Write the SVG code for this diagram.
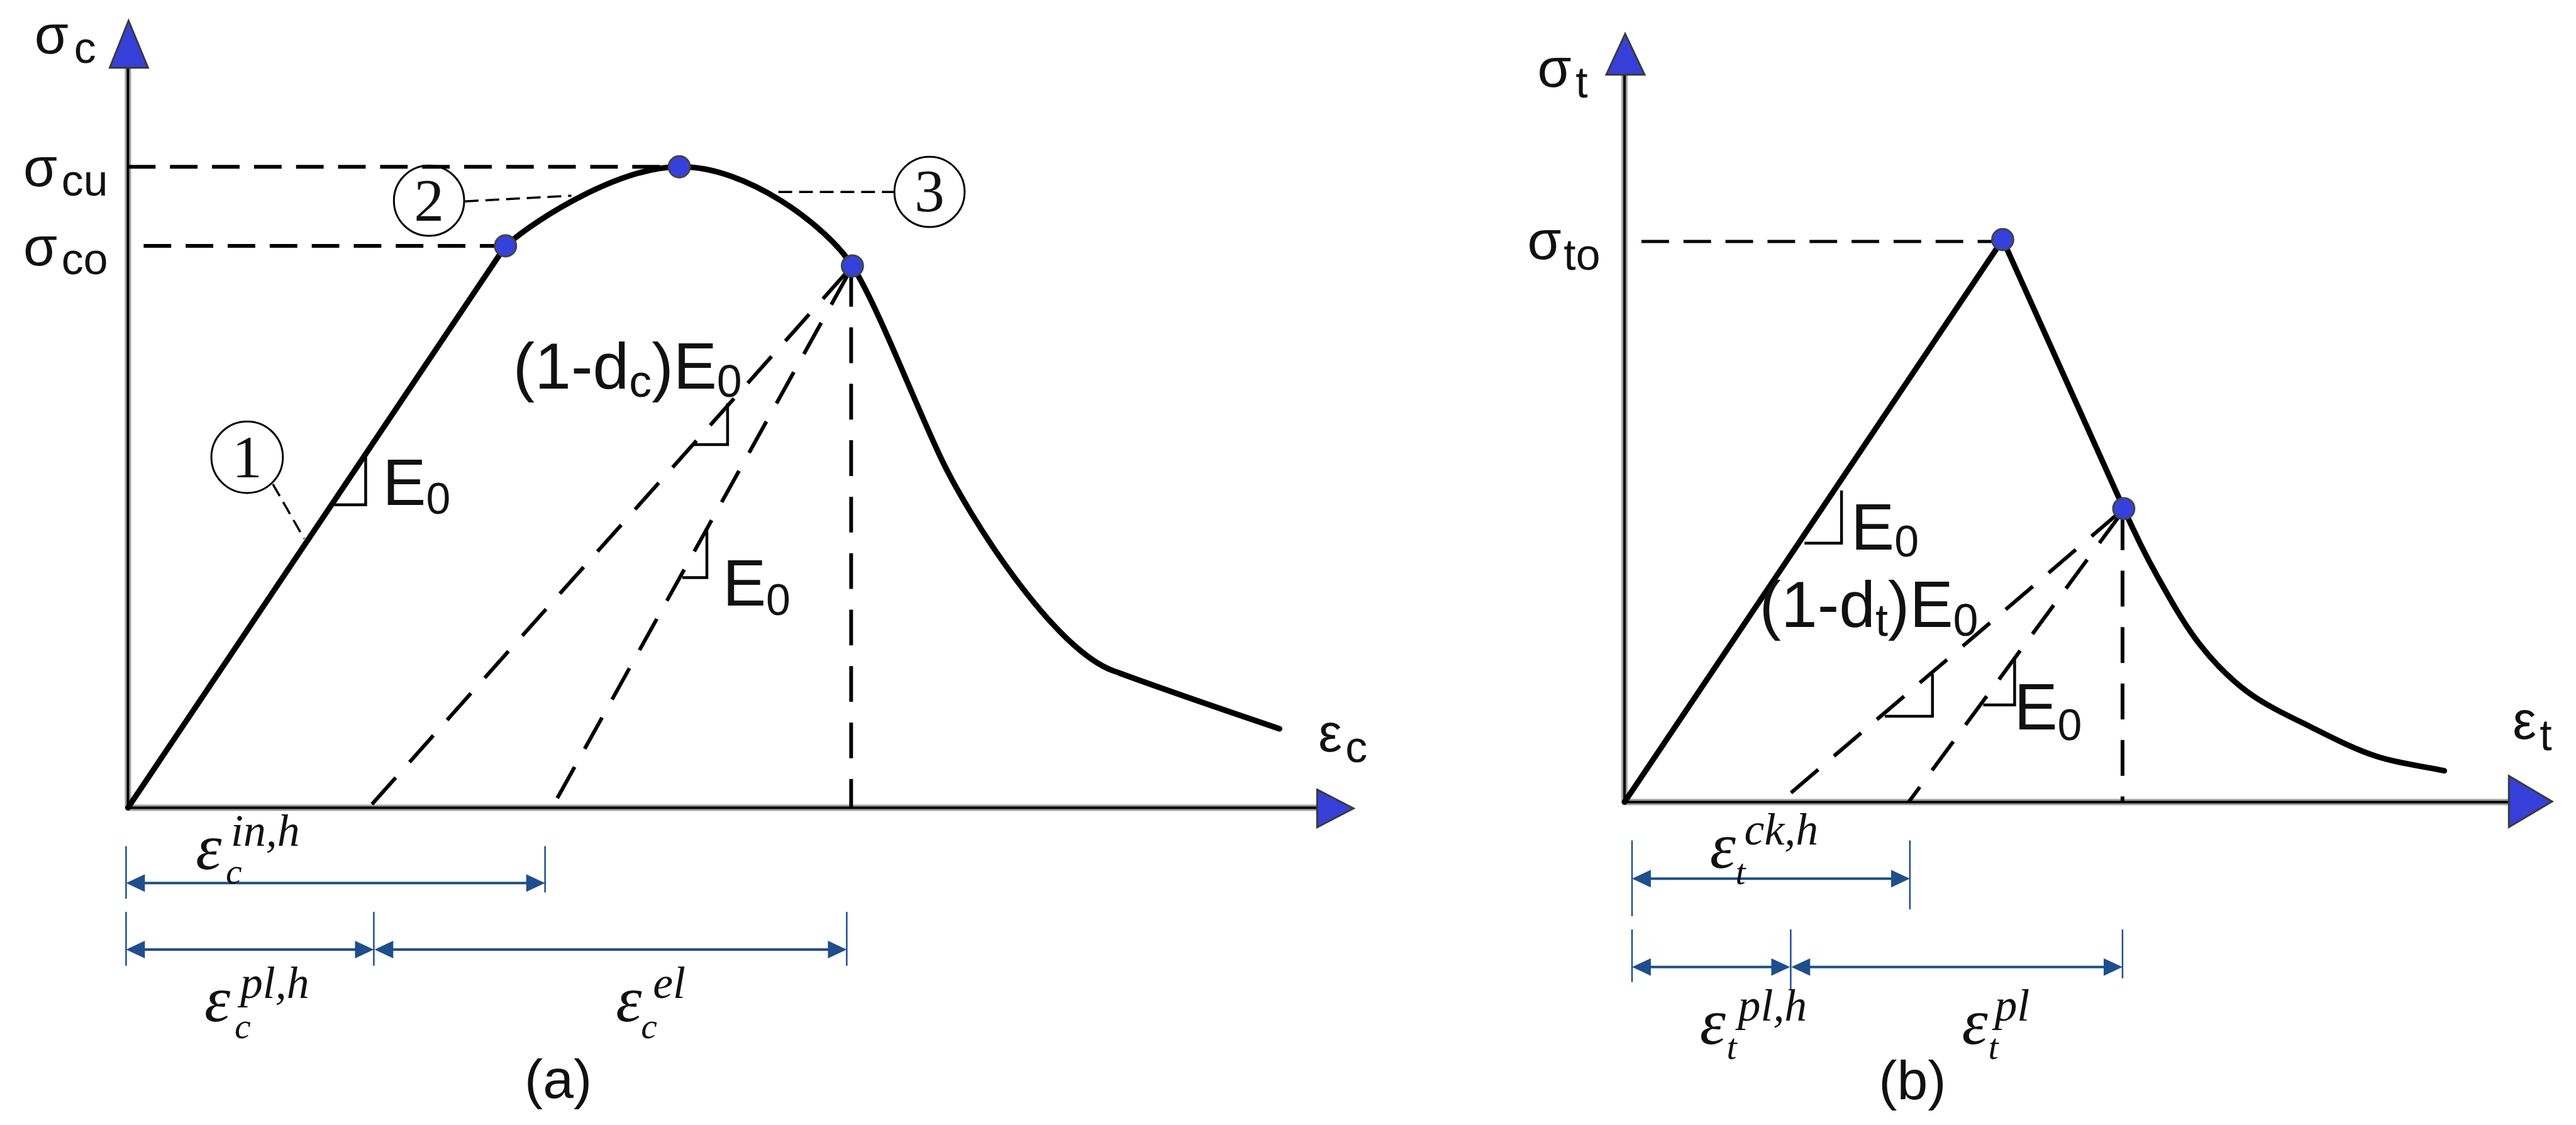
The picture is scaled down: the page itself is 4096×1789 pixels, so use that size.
<svg xmlns="http://www.w3.org/2000/svg" width="4096" height="1789" viewBox="0 0 4096 1789">
<style>
.axh{stroke:#a0a0a0;stroke-width:10;fill:none}
.ax{stroke:#000;stroke-width:4;fill:none}
.tri{fill:#3640d8;stroke:#3a3a3a;stroke-width:3;stroke-linejoin:miter}
.crv{stroke:#000;stroke-width:9;fill:none;stroke-linejoin:round;stroke-linecap:round}
.dh{stroke:#000;stroke-width:6;fill:none;stroke-dasharray:44 23}
.dd{stroke:#000;stroke-width:6;fill:none;stroke-dasharray:57 33}
.lead{stroke:#000;stroke-width:3.5;fill:none;stroke-dasharray:22 11}
.pt{fill:#3441dc;stroke:#444;stroke-width:3}
.ra{stroke:#000;stroke-width:4.5;fill:none}
.circ{fill:none;stroke:#000;stroke-width:3}
.num{font-family:"Liberation Serif","Times New Roman",serif;font-size:96px;text-anchor:middle;fill:#111}
.sans{font-family:"Liberation Sans",Arial,sans-serif;fill:#111}
.it{font-family:"Liberation Serif","Times New Roman",serif;font-style:italic;fill:#111}
.dim{stroke:#1f4e8c;stroke-width:4;fill:none}
.tick{stroke:#1f4e8c;stroke-width:2.5;fill:none}
.ah{fill:#1f4e8c}
</style>
<rect width="4096" height="1789" fill="#fff"/>
<g transform="scale(0.99732)">

<!-- Panel (a) -->
<g id="axes-a">
  <path class="axh" d="M204,1288 V108 M204,1288 H2100"/>
  <path class="ax" d="M204,1288 V108 M204,1288 H2100"/>
  <polygon class="tri" points="205,33 175,108 236,108"/>
  <polygon class="tri" points="2100,1259 2158,1289 2100,1319"/>
</g>
<g id="guides-a">
  <path class="dh" d="M204,266 H1083"/>
  <path class="dh" d="M229,392 H806"/>
  <path class="dd" d="M1357,432 V1288"/>
  <path class="dd" d="M1350,434 L588,1288"/>
  <path class="dd" d="M1353,436 L880,1288"/>
</g>
<g id="connectors">
  <path class="lead" d="M435,772 L485,859"/>
  <path class="lead" d="M741,321 L911,312"/>
  <path class="lead" d="M1241,306 L1426,306"/>
</g>
<g id="curve-a">
  <path class="crv" d="M204,1288 L806,392 C860,345 990,266 1083,266 C1190,264 1319,361 1359,424 C1399,487 1455,635 1500,730 C1545,825 1680,1036 1776,1070 C1836,1092 1960,1135 2040,1162"/>
</g>
<g id="points-a">
  <circle class="pt" cx="806" cy="392" r="17"/>
  <circle class="pt" cx="1083" cy="266" r="17"/>
  <circle class="pt" cx="1359" cy="424" r="17"/>
</g>
<g id="slopes-a">
  <path class="ra" d="M583,729 V805 H530"/>
  <path class="ra" d="M1160,643 V709 H1106"/>
  <path class="ra" d="M1127,844 V921 H1088"/>
</g>
<g id="callout-1">
  <circle class="circ" cx="394" cy="729" r="57"/>
  <text class="num" x="394" y="761">1</text>
</g>
<g id="callout-2">
  <circle class="circ" cx="684" cy="320" r="56"/>
  <text class="num" x="684" y="352">2</text>
</g>
<g id="callout-3">
  <circle class="circ" cx="1482" cy="306" r="56"/>
  <text class="num" x="1482" y="337">3</text>
</g>
<g id="labels-a">
  <text class="sans" x="55" y="85" font-size="88">σ<tspan x="118" y="100" font-size="70">c</tspan></text>
  <text class="sans" x="37" y="297" font-size="88">σ<tspan x="98" y="312" font-size="70">cu</tspan></text>
  <text class="sans" x="37" y="423" font-size="88">σ<tspan x="98" y="437" font-size="70">co</tspan></text>
  <text class="sans" x="2102" y="1198" font-size="85">ε<tspan x="2145" y="1215" font-size="70">c</tspan></text>
  <text class="sans" x="610" y="805" font-size="104">E<tspan font-size="70" dy="14">0</tspan></text>
  <text class="sans" x="1152" y="966" font-size="104">E<tspan font-size="70" dy="15">0</tspan></text>
  <text class="sans" x="818" y="620" font-size="104">(1-d<tspan font-size="72" dy="13">c</tspan><tspan dy="-13">)E</tspan><tspan font-size="72" dy="13">0</tspan></text>
  <text class="sans" x="890" y="1751" font-size="88" text-anchor="middle">(a)</text>
</g>
<g id="dims-a">
  <path class="tick" d="M201,1349 V1433 M869,1349 V1423 M201,1454 V1540 M596,1454 V1540 M1350,1454 V1540"/>
  <path class="dim" d="M215,1408 H855 M215,1514 H582 M610,1514 H1336"/>
  <polygon class="ah" points="201,1408 231,1394 231,1422"/>
  <polygon class="ah" points="869,1408 839,1394 839,1422"/>
  <polygon class="ah" points="201,1514 231,1500 231,1528"/>
  <polygon class="ah" points="596,1514 566,1500 566,1528"/>
  <polygon class="ah" points="597,1514 627,1500 627,1528"/>
  <polygon class="ah" points="1350,1514 1320,1500 1320,1528"/>
  <text class="it" x="312" y="1386" font-size="105">ε<tspan x="368" y="1349" font-size="72">in,h</tspan><tspan x="360" y="1409" font-size="58">c</tspan></text>
  <text class="it" x="326" y="1628" font-size="105">ε<tspan x="383" y="1591" font-size="72">pl,h</tspan><tspan x="374" y="1655" font-size="58">c</tspan></text>
  <text class="it" x="982" y="1628" font-size="105">ε<tspan x="1041" y="1591" font-size="72">el</tspan><tspan x="1022" y="1655" font-size="58">c</tspan></text>
</g>

<!-- Panel (b) -->
<g id="axes-b">
  <path class="axh" d="M2590,1279 V119 M2590,1279 H4000"/>
  <path class="ax" d="M2590,1279 V119 M2590,1279 H4000"/>
  <polygon class="tri" points="2591,54 2561,119 2622,119"/>
  <polygon class="tri" points="4000,1237 4069,1278 4000,1319"/>
</g>
<g id="guides-b">
  <path class="dh" style="stroke-width:5" d="M2617,385 H3193"/>
  <path class="dd" d="M3384,820 V1279"/>
  <path class="dd" d="M3378,818 L2838,1279"/>
  <path class="dd" d="M3381,820 L3043,1279"/>
</g>
<g id="curve-b">
  <path class="crv" d="M2590,1279 L3193,382 L3386,811 C3403,849 3419,882.2 3439,918 C3459,953.8 3482,995.2 3506,1026 C3530,1056.8 3553,1080.7 3583,1103 C3613,1125.3 3651.7,1142.8 3686,1160 C3720.3,1177.2 3753.8,1194.5 3789,1206 C3824.2,1217.5 3861,1221.3 3897,1229"/>
</g>
<g id="points-b">
  <circle class="pt" cx="3193" cy="382" r="17"/>
  <circle class="pt" cx="3386" cy="811" r="17"/>
</g>
<g id="slopes-b">
  <path class="ra" d="M2936,782 V866 H2877"/>
  <path class="ra" d="M3081,1075 V1142 H3005"/>
  <path class="ra" d="M3212,1050 V1124 H3162"/>
</g>
<g id="labels-b">
  <text class="sans" x="2451" y="138" font-size="88">σ<tspan x="2512" y="155" font-size="70">t</tspan></text>
  <text class="sans" x="2435" y="413" font-size="88">σ<tspan x="2493" y="430" font-size="70">to</tspan></text>
  <text class="sans" x="4006" y="1178" font-size="85">ε<tspan x="4049" y="1196" font-size="70">t</tspan></text>
  <text class="sans" x="2951" y="876" font-size="104">E<tspan font-size="70" dy="11">0</tspan></text>
  <text class="sans" x="3211" y="1163" font-size="104">E<tspan font-size="70" dy="17">0</tspan></text>
  <text class="sans" x="2805" y="1000" font-size="104">(1-d<tspan font-size="72" dy="14">t</tspan><tspan dy="-14">)E</tspan><tspan font-size="72" dy="14">0</tspan></text>
  <text class="sans" x="3049" y="1753" font-size="88" text-anchor="middle">(b)</text>
</g>
<g id="dims-b">
  <path class="tick" d="M2602,1340 V1461 M3045,1340 V1450 M2602,1482 V1566 M2855,1482 V1579 M3384,1482 V1560"/>
  <path class="dim" d="M2616,1401 H3031 M2616,1542 H2841 M2869,1542 H3370"/>
  <polygon class="ah" points="2602,1401 2632,1387 2632,1415"/>
  <polygon class="ah" points="3045,1401 3015,1387 3015,1415"/>
  <polygon class="ah" points="2602,1542 2632,1528 2632,1556"/>
  <polygon class="ah" points="2854,1542 2824,1528 2824,1556"/>
  <polygon class="ah" points="2856,1542 2886,1528 2886,1556"/>
  <polygon class="ah" points="3384,1542 3354,1528 3354,1556"/>
  <text class="it" x="2726" y="1384" font-size="105">ε<tspan x="2781" y="1347" font-size="72">ck,h</tspan><tspan x="2767" y="1410" font-size="58">t</tspan></text>
  <text class="it" x="2710" y="1664" font-size="105">ε<tspan x="2771" y="1627" font-size="72">pl,h</tspan><tspan x="2753" y="1689" font-size="58">t</tspan></text>
  <text class="it" x="3128" y="1664" font-size="105">ε<tspan x="3180" y="1627" font-size="72">pl</tspan><tspan x="3170" y="1689" font-size="58">t</tspan></text>
</g>
</g>
</svg>
